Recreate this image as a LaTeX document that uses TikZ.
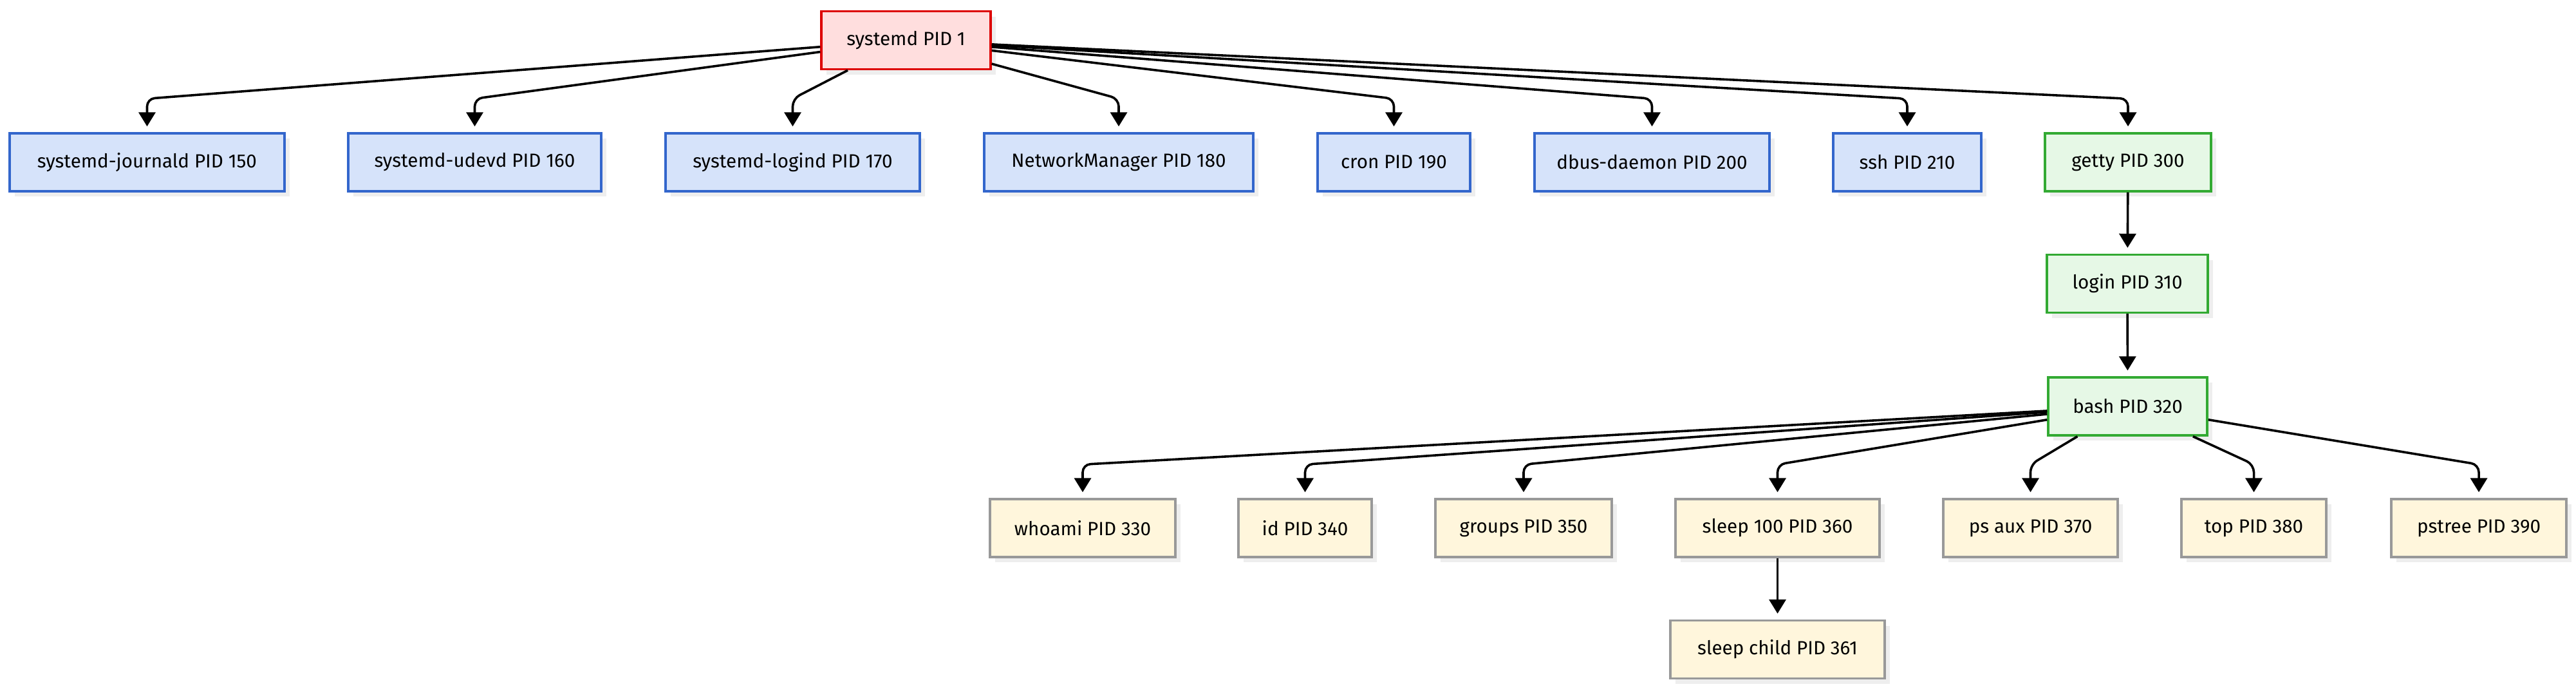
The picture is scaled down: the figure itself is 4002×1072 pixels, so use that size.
\documentclass[tikz,border=0pt]{standalone}
\usepackage{fontspec}
\setmainfont{Fira Sans}
\usetikzlibrary{arrows.meta,calc,shadows}
\definecolor{redfill}{HTML}{FFDEDE}
\definecolor{redline}{HTML}{DD0000}
\definecolor{bluefill}{HTML}{D6E3FA}
\definecolor{blueline}{HTML}{3366CC}
\definecolor{greenfill}{HTML}{E6F8E6}
\definecolor{greenline}{HTML}{33AA33}
\definecolor{yellowfill}{HTML}{FFF6DC}
\definecolor{yellowline}{HTML}{999999}
\definecolor{shadowc}{HTML}{EEEEEE}
\tikzset{
  procbox/.style={draw, line width=0.85pt, minimum height=22.5pt, inner sep=0pt,
    font=\fontsize{7.4pt}{8.2pt}\selectfont, text=black,
    drop shadow={fill=shadowc, opacity=1, shadow xshift=2pt, shadow yshift=-2pt}},
  rootbox/.style={procbox, fill=redfill, draw=redline},
  svcbox/.style={procbox, fill=bluefill, draw=blueline},
  sessbox/.style={procbox, fill=greenfill, draw=greenline},
  cmdbox/.style={procbox, fill=yellowfill, draw=yellowline},
  arr/.style={-{Triangle[width=6.5pt,length=5.5pt]}, line width=0.9pt, black,
    rounded corners=3pt, shorten >=2.25pt},
}
\begin{document}
\begin{tikzpicture}[x=0.25pt,y=-0.25pt]
\useasboundingbox (0,0) rectangle (4002,1072);
% root
\node[rootbox, minimum width=65.75pt] (sys) at (1407.5,62.5) {systemd PID 1};
% row 1
\node[svcbox, minimum width=106.75pt] (jou) at (228.5,252) {systemd-journald PID 150};
\node[svcbox, minimum width=98.25pt] (udev) at (737.5,252) {systemd-udevd PID 160};
\node[svcbox, minimum width=98.75pt] (logd) at (1231.5,252) {systemd-logind PID 170};
\node[svcbox, minimum width=104.5pt] (nm) at (1738,252) {NetworkManager PID 180};
\node[svcbox, minimum width=59.25pt] (cron) at (2165.5,252) {cron PID 190};
\node[svcbox, minimum width=91.25pt] (dbus) at (2566.5,252) {dbus-daemon PID 200};
\node[svcbox, minimum width=57.5pt] (ssh) at (2963,252) {ssh PID 210};
\node[sessbox, minimum width=64.5pt] (getty) at (3306,252) {getty PID 300};
% session chain
\node[sessbox, minimum width=62.5pt] (login) at (3305,440.5) {login PID 310};
\node[sessbox, minimum width=61.75pt] (bash) at (3305.5,631) {bash PID 320};
% row 3
\node[cmdbox, minimum width=72pt] (who) at (1682,820) {whoami PID 330};
\node[cmdbox, minimum width=51.75pt] (id) at (2027.5,820) {id PID 340};
\node[cmdbox, minimum width=68.5pt] (grp) at (2367,820) {groups PID 350};
\node[cmdbox, minimum width=79.25pt] (slp) at (2761.5,820) {sleep 100 PID 360};
\node[cmdbox, minimum width=67.75pt] (ps) at (3154.5,820) {ps aux PID 370};
\node[cmdbox, minimum width=56.25pt] (top) at (3501.5,820) {top PID 380};
\node[cmdbox, minimum width=68pt] (pst) at (3851,820) {pstree PID 390};
% row 4
\node[cmdbox, minimum width=83.25pt] (slc) at (2761.5,1008.5) {sleep child PID 361};
% edges from systemd
\foreach \c in {jou,udev,logd,nm,cron,dbus,ssh,getty}
  \draw[arr] (sys) -- ($(\c.north)+(0,-52)$) -- (\c.north);
% chain
\draw[arr] (getty) -- (login);
\draw[arr] (login) -- (bash);
% edges from bash
\foreach \c in {who,id,grp,slp,ps,top,pst}
  \draw[arr] (bash) -- ($(\c.north)+(0,-52)$) -- (\c.north);
\draw[arr] (slp) -- (slc);
\end{tikzpicture}
\end{document}
